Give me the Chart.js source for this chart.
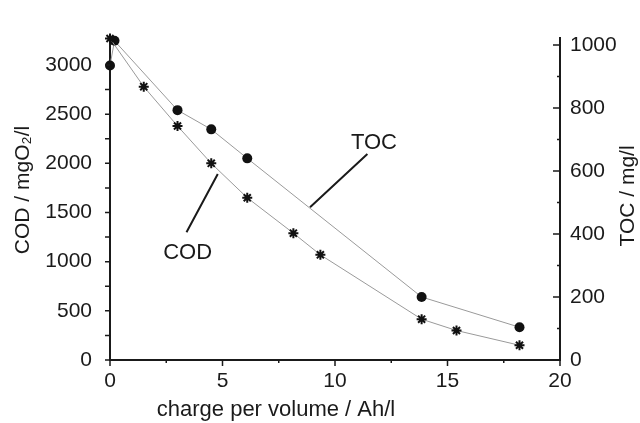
<!DOCTYPE html>
<html lang="en">
<head>
    <meta charset="UTF-8">
    <script src="https://cdn.jsdelivr.net/npm/chart.js"></script>
    <title>COD / TOC vs charge</title>
    <style>
        html, body {
            margin: 0;
            padding: 0;
            background: #fff;
        }
        .container {
            width: 640px;
            height: 423px;
        }
    </style>
</head>
<body>
    <div class="container">
        <canvas id="codChart" width="640" height="423"></canvas>
    </div>
    <script>
        // values
        const codCharge = [0, 1.5, 3.0, 4.5, 6.1, 8.15, 9.35, 13.85, 15.4, 18.2];
        const codValues = [3270, 2780, 2380, 2000, 1650, 1290, 1070, 415, 300, 150];
        const tocCharge = [0, 0.2, 3.0, 4.5, 6.1, 13.85, 18.2];
        const tocValues = [935, 1013, 793, 732, 640, 200, 104];

        const xTicks = [0, 5, 10, 15, 20];
        const codTicks = [0, 500, 1000, 1500, 2000, 2500, 3000];
        const tocTicks = [0, 200, 400, 600, 800, 1000];

        const FONT = '"Liberation Sans", Arial, sans-serif';
        const ink = '#1a1a1a';

        const ctx = document.getElementById('codChart').getContext('2d');

        // tick marks, titles and the two labels with leader lines
        const decorations = {
            id: 'decorations',
            afterDraw(chart) {
                const c = chart.ctx;
                const x = chart.scales.x, yl = chart.scales.y, yr = chart.scales.y2;
                const area = chart.chartArea;
                c.save();
                c.strokeStyle = ink;
                c.lineWidth = 1.5;
                c.beginPath();
                for (let v = 0; v <= 20; v += 2.5) {
                    const px = x.getPixelForValue(v);
                    const len = v % 5 === 0 ? 6 : 3;
                    c.moveTo(px, area.bottom);
                    c.lineTo(px, area.bottom + len);
                }
                for (let v = 0; v <= 3000; v += 250) {
                    const py = yl.getPixelForValue(v);
                    c.moveTo(area.left, py);
                    c.lineTo(area.left - 5, py);
                }
                for (let v = 0; v <= 1000; v += 100) {
                    const py = yr.getPixelForValue(v);
                    const len = v % 200 === 0 ? 7 : 3;
                    c.moveTo(area.right, py);
                    c.lineTo(area.right - len, py);
                }
                c.stroke();

                // leader lines
                c.lineWidth = 2;
                c.beginPath();
                c.moveTo(x.getPixelForValue(11.44), yl.getPixelForValue(2095));
                c.lineTo(x.getPixelForValue(8.89), yl.getPixelForValue(1553));
                c.moveTo(x.getPixelForValue(4.79), yl.getPixelForValue(1892));
                c.lineTo(x.getPixelForValue(3.40), yl.getPixelForValue(1299));
                c.stroke();

                c.fillStyle = ink;
                c.textAlign = 'center';
                c.textBaseline = 'middle';
                c.font = '22px ' + FONT;
                c.fillText('TOC', x.getPixelForValue(11.73), yl.getPixelForValue(2207));
                c.fillText('COD', x.getPixelForValue(3.45), yl.getPixelForValue(1085));

                // axis titles
                c.font = '22px ' + FONT;
                c.fillText('charge per volume / Ah/l', 276, 410);
                c.font = '21px ' + FONT;
                c.save();
                c.translate(23, 190);
                c.rotate(-Math.PI / 2);
                c.fillText('COD / mgO\u2082/l', 0, 0);
                c.restore();
                c.save();
                c.translate(628, 196);
                c.rotate(-Math.PI / 2);
                c.fillText('TOC / mg/l', 0, 0);
                c.restore();
                c.restore();
            }
        };

        const tickFont = { family: FONT, size: 21 };
        const plain = v => String(v);

        const config = {
            type: 'scatter',
            data: {
                datasets: [
                    {
                        label: 'COD',
                        data: codCharge.map((q, i) => ({ x: q, y: codValues[i] })),
                        yAxisID: 'y',
                        showLine: true,
                        clip: false,
                        borderColor: '#9a9a9a',
                        borderWidth: 1,
                        pointStyle: 'star',
                        pointRadius: 5,
                        pointBorderWidth: 2,
                        pointBorderColor: '#111',
                        pointBackgroundColor: '#111'
                    },
                    {
                        label: 'TOC',
                        data: tocCharge.map((q, i) => ({ x: q, y: tocValues[i] })),
                        yAxisID: 'y2',
                        showLine: true,
                        clip: false,
                        borderColor: '#9a9a9a',
                        borderWidth: 1,
                        pointStyle: 'circle',
                        pointRadius: 5,
                        pointBorderWidth: 0,
                        pointBackgroundColor: '#111'
                    }
                ]
            },
            options: {
                responsive: false,
                animation: false,
                layout: { padding: { top: 38 } },
                plugins: {
                    legend: { display: false },
                    tooltip: { enabled: false }
                },
                scales: {
                    x: {
                        type: 'linear',
                        min: 0,
                        max: 20,
                        afterBuildTicks: s => { s.ticks = xTicks.map(v => ({ value: v })); },
                        afterFit: s => { s.height = 63; },
                        grid: { display: true, drawOnChartArea: false, drawTicks: false },
                        border: { color: ink, width: 2 },
                        ticks: { color: ink, font: tickFont, padding: 9, maxRotation: 0, callback: plain }
                    },
                    y: {
                        position: 'left',
                        min: 0,
                        max: 3275,
                        afterBuildTicks: s => { s.ticks = codTicks.map(v => ({ value: v })); },
                        afterFit: s => { s.width = 110; },
                        grid: { drawOnChartArea: false, drawTicks: false },
                        border: { color: ink, width: 2 },
                        ticks: { color: ink, font: tickFont, padding: 18, callback: plain }
                    },
                    y2: {
                        position: 'right',
                        min: 0,
                        max: 1022,
                        afterBuildTicks: s => { s.ticks = tocTicks.map(v => ({ value: v })); },
                        afterFit: s => { s.width = 80; },
                        grid: { drawOnChartArea: false, drawTicks: false },
                        border: { color: ink, width: 2 },
                        ticks: { color: ink, font: tickFont, padding: 10, callback: plain }
                    }
                }
            },
            plugins: [decorations]
        };

        const codChart = new Chart(ctx, config);
    </script>
</body>
</html>
